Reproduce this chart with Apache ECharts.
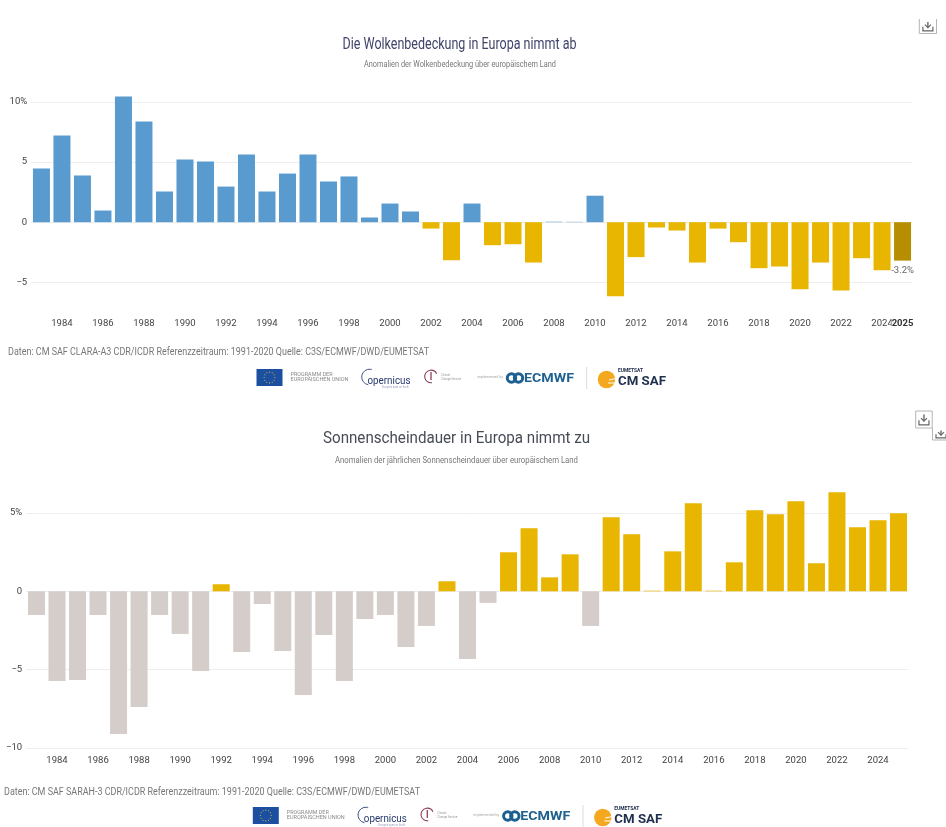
<!DOCTYPE html>
<html>
<head>
<meta charset="utf-8">
<style>html,body{margin:0;padding:0;background:#fff}#c{width:946px;height:827px}</style>
<script src="https://cdn.jsdelivr.net/npm/echarts@6/dist/echarts.min.js"></script>
</head>
<body>
<div id="c"></div>
<script>
const years = [1983,1984,1985,1986,1987,1988,1989,1990,1991,1992,1993,1994,1995,1996,1997,1998,1999,2000,2001,2002,2003,2004,2005,2006,2007,2008,2009,2010,2011,2012,2013,2014,2015,2016,2017,2018,2019,2020,2021,2022,2023,2024,2025];
const cloudValues = [4.46,7.2,3.88,0.97,10.44,8.37,2.55,5.2,5.04,2.96,5.62,2.55,4.04,5.62,3.38,3.8,0.39,1.55,0.89,-0.53,-3.16,1.55,-1.91,-1.83,-3.35,0.04,0.03,2.2,-6.15,-2.9,-0.44,-0.69,-3.35,-0.53,-1.66,-3.82,-3.68,-5.57,-3.35,-5.68,-2.99,-3.99,-3.19];
const sunValues = [-1.51,-5.72,-5.66,-1.51,-9.1,-7.38,-1.51,-2.72,-5.08,0.45,-3.87,-0.81,-3.81,-6.62,-2.79,-5.72,-1.77,-1.51,-3.55,-2.21,0.64,-4.32,-0.74,2.49,4.02,0.89,2.36,-2.21,4.72,3.64,0.04,2.55,5.62,0.04,1.85,5.17,4.91,5.74,1.79,6.32,4.09,4.53,4.98];
const cloudTitle = 'Die Wolkenbedeckung in Europa nimmt ab';
const cloudSub = 'Anomalien der Wolkenbedeckung über europäischem Land';
const cloudFoot = 'Daten: CM SAF CLARA-A3 CDR/ICDR Referenzzeitraum: 1991-2020 Quelle: C3S/ECMWF/DWD/EUMETSAT';
const sunTitle = 'Sonnenscheindauer in Europa nimmt zu';
const sunSub = 'Anomalien der jährlichen Sonnenscheindauer über europäischem Land';
const sunFoot = 'Daten: CM SAF SARAH-3 CDR/ICDR Referenzzeitraum: 1991-2020 Quelle: C3S/ECMWF/DWD/EUMETSAT';
const lastLabel = '-3.2%';

const BLUE='#5a9bcf', GOLD='#e8b500', GREY='#d5cdca', DARK='#b68e00';
const FF='Roboto, sans-serif';
const ctx=document.createElement('canvas').getContext('2d');

// text fitted to a given width, so narrow type can be matched
function fit(text,x,y,w,size,fill,weight){
  const font=(weight||'normal')+' '+size+'px '+FF;
  ctx.font=font;
  const sx=w/ctx.measureText(text).width;
  return {type:'text',x:x,y:y,scaleX:sx,silent:true,style:{text:text,font:font,fill:fill,textAlign:'left',textVerticalAlign:'middle'}};
}
function line(pts,stroke,lw){return {type:'polyline',silent:true,shape:{points:pts},style:{stroke:stroke,fill:null,lineWidth:lw||1}};}

function download(x,y,w,h,noTop){
  const c='#666', e='#b5b5b5', mx=x+w/2, out=[];
  out.push(line(noTop?[[x,y],[x,y+h],[x+w,y+h],[x+w,y]]:[[x,y],[x,y+h],[x+w,y+h],[x+w,y],[x,y]],e,1));
  const t=y+h*0.2,b=y+h*0.6;
  out.push(line([[mx,t],[mx,b]],c,1.4));
  out.push(line([[mx-3,b-3],[mx,b],[mx+3,b-3]],c,1.2));
  out.push(line([[mx-5,b-1],[mx-5,y+h*0.82],[mx+5,y+h*0.82],[mx+5,b-1]],c,1.2));
  return out;
}
function logos(dx,dy){
  const X=v=>v+dx, Y=v=>v+dy, out=[];
  // EU flag
  out.push({type:'rect',silent:true,shape:{x:X(256.5),y:Y(369),width:26,height:17},style:{fill:'#1c4f9f'}});
  for(let i=0;i<12;i++){const a=i*Math.PI/6;
    out.push({type:'circle',silent:true,shape:{cx:X(269.5)+5.4*Math.cos(a),cy:Y(377.5)+5.4*Math.sin(a),r:0.55},style:{fill:'#d9c84a'}});}
  out.push(fit('PROGRAMM DER',X(290.5),Y(374.3),42,5,'#8a8a8a'));
  out.push(fit('EUROPÄISCHEN UNION',X(290.5),Y(379.8),58,5,'#8a8a8a'));
  // Copernicus
  out.push({type:'arc',silent:true,shape:{cx:X(369.5),cy:Y(377),r:7.8,startAngle:Math.PI*0.55,endAngle:Math.PI*1.6},style:{stroke:'#2c3f78',fill:null,lineWidth:0.9}});
  out.push(fit('opernicus',X(367.5),Y(380.7),43,11.5,'#26386e'));
  out.push(fit('Europe\u2019s eyes on Earth',X(382),Y(387),27,3,'#9aa3bd'));
  // Climate service
  out.push({type:'arc',silent:true,shape:{cx:X(431),cy:Y(376.5),r:6.3,startAngle:Math.PI*0.45,endAngle:Math.PI*1.85},style:{stroke:'#8c3a5c',fill:null,lineWidth:1.1}});
  out.push(line([[X(431),Y(372)],[X(431),Y(380)]],'#a04a5a',1.4));
  out.push(fit('Climate',X(441),Y(375),9,3,'#999'));
  out.push(fit('Change Service',X(441),Y(379),20,3,'#999'));
  // ECMWF
  out.push(fit('implemented by',X(477),Y(377.5),26,3,'#aaa'));
  out.push({type:'circle',silent:true,shape:{cx:X(511.5),cy:Y(378),r:4.2},style:{fill:null,stroke:'#1d5f91',lineWidth:3}});
  out.push({type:'circle',silent:true,shape:{cx:X(518.5),cy:Y(378),r:4.2},style:{fill:null,stroke:'#1d5f91',lineWidth:3}});
  out.push(fit('ECMWF',X(524),Y(378.5),50,13.5,'#1f6291','bold'));
  out.push(line([[X(586.7),Y(367)],[X(586.7),Y(389)]],'#dcdcdc',1));
  // CM SAF
  out.push({type:'circle',silent:true,shape:{cx:X(606.5),cy:Y(379.5),r:8.7},style:{fill:'#f3a81d'}});
  out.push(line([[X(609),Y(380)],[X(616),Y(378.5)]],'#fff',1));
  out.push(line([[X(608),Y(383)],[X(616),Y(383)]],'#fff',1));
  out.push(fit('EUMETSAT',X(618),Y(370.3),25,5,'#22304f','bold'));
  out.push(fit('CM SAF',X(618),Y(381.5),48,13.5,'#1f2f4d','bold'));
  return out;
}

const graphics=[].concat(
  fit(cloudTitle,342.5,44.7,234,16,'#40436a'),
  fit(cloudSub,364,65,192,9,'#777'),
  fit(cloudFoot,8,352.5,421,10.5,'#777'),
  fit(sunTitle,323,439,267,16,'#474b55'),
  fit(sunSub,335,461,243,9,'#777'),
  fit(sunFoot,4,792,416,10.5,'#777'),
  logos(0,0),
  logos(-3.7,438),
  download(919.3,19,17.2,14.5,true),
  download(915.7,411,16.5,17,false),
  download(932.5,428,17,12,true)
);

function yAxisFor(idx,min,max,showMin){
  return {gridIndex:idx,type:'value',min:min,max:max,interval:5,
    axisLine:{show:false},axisTick:{show:false},
    splitLine:{show:true,showMinLine:showMin,showMaxLine:false,lineStyle:{color:'#eeeeee',width:1}},
    axisLabel:{showMaxLabel:false,showMinLabel:showMin,margin:4,fontFamily:FF,fontSize:9.5,color:'#444',
      formatter:v=>v===(idx===0?10:5)?v+'%':String(v).replace('-','\u2212')}};
}
function xAxisFor(idx,offset){
  return {gridIndex:idx,type:'category',data:years.map(String),position:'bottom',offset:offset,
    axisLine:{show:false},axisTick:{show:false},splitLine:{show:false},
    axisLabel:{margin:8,fontFamily:FF,fontSize:9.5,color:'#444',hideOverlap:false,
      interval:(i,v)=>(+v)%2===0}};
}
// separate label-only axis for the highlighted final year, drawn over its neighbour
function lastYearAxis(idx,offset){
  return {gridIndex:idx,type:'category',data:years.map(String),position:'bottom',offset:offset,z:5,
    axisLine:{show:false},axisTick:{show:false},splitLine:{show:false},
    axisLabel:{margin:8,fontFamily:FF,fontSize:9.5,fontWeight:'bold',color:'#333',backgroundColor:'#fff',hideOverlap:false,showMaxLabel:true,
      interval:(i,v)=>i===years.length-1}};
}

const chart=echarts.init(document.getElementById('c'),null,{renderer:'canvas'});
chart.setOption({
  animation:false,
  backgroundColor:'#fff',
  graphic:graphics,
  grid:[
    {left:31.2,width:881.6,top:41.6,height:301,containLabel:false},
    {left:26.2,width:882.6,top:434.6,height:313.4,containLabel:false}
  ],
  xAxis:[xAxisFor(0,-32),xAxisFor(1,0),lastYearAxis(0,-32)],
  yAxis:[yAxisFor(0,-10,15,false),yAxisFor(1,-10,10,true)],
  series:[
    {type:'bar',xAxisIndex:0,yAxisIndex:0,barWidth:17,
     data:cloudValues.map((v,i)=>{
       const d={value:v,itemStyle:{color:i===cloudValues.length-1?DARK:(v>=0?BLUE:GOLD)}};
       if(i===cloudValues.length-1) d.label={show:true,position:'bottom',distance:5,formatter:lastLabel,fontFamily:FF,fontSize:9.5,color:'#666'};
       return d;})},
    {type:'bar',xAxisIndex:1,yAxisIndex:1,barWidth:17,
     data:sunValues.map(v=>({value:v,itemStyle:{color:v>=0?GOLD:GREY}}))}
  ]
});
</script>
</body>
</html>
